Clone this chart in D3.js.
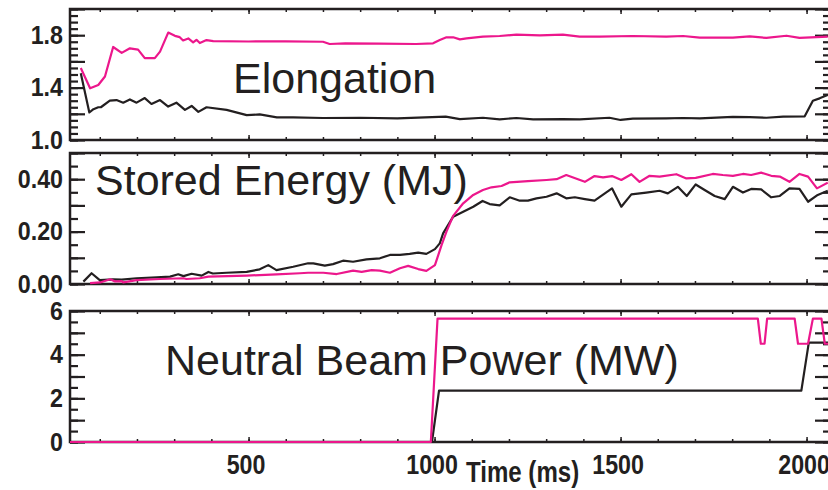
<!DOCTYPE html>
<html>
<head>
<meta charset="utf-8">
<script src="https://cdn.jsdelivr.net/npm/d3@7"></script>
<style>
  html, body { margin: 0; padding: 0; background: #fff; overflow: hidden; }
  svg { display: block; }
</style>
</head>
<body>
<svg id="chart" width="828" height="490"></svg>
<script>
// ---------------- data (time in ms) ----------------
// Two discharges: shot A (black) and shot B (magenta)

// Elongation
const elongTimeA = [49, 72, 83, 96, 103, 127, 145, 163, 181, 199, 221, 239, 262, 284, 306, 329, 347, 365, 387, 441, 495, 530, 576, 620, 700, 800, 900, 1030, 1068, 1130, 1175, 1220, 1265, 1345, 1390, 1470, 1500, 1533, 1623, 1668, 1713, 1802, 1847, 1892, 1937, 1995, 2017, 2035, 2057];
const elongA = [1.51, 1.21, 1.235, 1.25, 1.25, 1.30, 1.305, 1.285, 1.31, 1.285, 1.32, 1.275, 1.305, 1.255, 1.285, 1.23, 1.26, 1.215, 1.25, 1.23, 1.19, 1.195, 1.173, 1.172, 1.168, 1.17, 1.165, 1.178, 1.16, 1.17, 1.158, 1.168, 1.158, 1.16, 1.158, 1.17, 1.153, 1.163, 1.165, 1.168, 1.165, 1.176, 1.174, 1.17, 1.178, 1.181, 1.30, 1.318, 1.344];

const elongTimeB = [49, 74, 96, 114, 136, 159, 181, 203, 221, 248, 262, 284, 302, 315, 324, 338, 351, 360, 369, 387, 405, 500, 600, 700, 718, 760, 850, 950, 996, 1014, 1032, 1050, 1068, 1086, 1130, 1175, 1220, 1283, 1345, 1390, 1444, 1533, 1623, 1668, 1713, 1802, 1847, 1892, 1946, 1981, 2057];
const elongB = [1.55, 1.395, 1.42, 1.485, 1.71, 1.665, 1.70, 1.69, 1.625, 1.625, 1.675, 1.82, 1.795, 1.785, 1.76, 1.775, 1.745, 1.765, 1.74, 1.763, 1.755, 1.752, 1.753, 1.75, 1.733, 1.737, 1.735, 1.733, 1.738, 1.763, 1.784, 1.784, 1.768, 1.776, 1.789, 1.794, 1.804, 1.799, 1.804, 1.789, 1.789, 1.794, 1.789, 1.794, 1.781, 1.781, 1.791, 1.779, 1.796, 1.779, 1.789];

// Stored energy (MJ)
const energyTimeA = [56, 78, 100, 136, 159, 199, 253, 289, 311, 325, 347, 374, 392, 404, 441, 495, 530, 553, 575, 620, 660, 674, 705, 727, 754, 781, 817, 853, 880, 907, 933, 956, 978, 1001, 1014, 1023, 1050, 1077, 1104, 1129, 1148, 1175, 1202, 1229, 1251, 1274, 1301, 1328, 1354, 1377, 1404, 1430, 1477, 1502, 1529, 1569, 1605, 1627, 1654, 1678, 1702, 1726, 1753, 1780, 1802, 1829, 1851, 1878, 1905, 1928, 1954, 1981, 2004, 2030, 2057];
const energyA = [0.009, 0.041, 0.015, 0.018, 0.017, 0.022, 0.025, 0.028, 0.037, 0.030, 0.039, 0.032, 0.046, 0.040, 0.043, 0.046, 0.056, 0.072, 0.053, 0.066, 0.079, 0.079, 0.070, 0.076, 0.089, 0.085, 0.094, 0.098, 0.111, 0.111, 0.115, 0.120, 0.115, 0.133, 0.155, 0.193, 0.257, 0.276, 0.295, 0.317, 0.305, 0.300, 0.331, 0.318, 0.318, 0.327, 0.333, 0.346, 0.327, 0.331, 0.324, 0.318, 0.365, 0.295, 0.342, 0.349, 0.356, 0.346, 0.371, 0.336, 0.380, 0.359, 0.336, 0.324, 0.371, 0.349, 0.363, 0.361, 0.331, 0.336, 0.365, 0.363, 0.314, 0.340, 0.356];

const energyTimeB = [74, 101, 128, 141, 159, 163, 199, 262, 325, 333, 369, 392, 495, 575, 638, 660, 701, 737, 781, 804, 831, 853, 880, 907, 929, 956, 978, 1001, 1019, 1032, 1050, 1077, 1104, 1130, 1153, 1180, 1202, 1251, 1301, 1328, 1354, 1404, 1430, 1453, 1477, 1502, 1529, 1551, 1578, 1605, 1650, 1677, 1702, 1748, 1775, 1802, 1829, 1851, 1878, 1905, 1928, 1954, 1981, 2004, 2028, 2057];
const energyB = [0.003, 0.006, 0.018, 0.010, 0.011, 0.006, 0.015, 0.019, 0.022, 0.019, 0.022, 0.028, 0.032, 0.037, 0.041, 0.043, 0.043, 0.038, 0.051, 0.046, 0.053, 0.051, 0.043, 0.060, 0.069, 0.057, 0.050, 0.072, 0.149, 0.200, 0.260, 0.308, 0.340, 0.359, 0.369, 0.374, 0.388, 0.393, 0.397, 0.400, 0.416, 0.390, 0.412, 0.407, 0.412, 0.397, 0.419, 0.390, 0.413, 0.410, 0.419, 0.403, 0.405, 0.420, 0.416, 0.413, 0.420, 0.416, 0.425, 0.413, 0.410, 0.390, 0.420, 0.410, 0.365, 0.387];

// Neutral beam power (MW)
const beamTimeA = [20, 993, 1012, 1986, 2006, 2063];
const beamA = [0, 0, 2.35, 2.35, 4.55, 4.55];

const beamTimeB = [20, 990, 1008, 1869, 1877, 1887, 1894, 1968, 1977, 2004, 2017, 2040, 2049, 2063];
const beamB = [0, 0, 5.65, 5.65, 4.5, 4.5, 5.65, 5.65, 4.5, 4.5, 5.65, 5.65, 4.5, 4.5];

// Axis tick labels
const timeTicks = [500, 1000, 1500, 2000];
const elongTicks = [1.0, 1.4, 1.8];
const energyTicks = [0.00, 0.20, 0.40];
const powerTicks = [0, 2, 4, 6];

// ---------------- drawing ----------------
const INK = "#231f20";
const PINK = "#ec178c";
const BOLD_FONT = "'Liberation Sans', Arial, Helvetica, sans-serif";

const svg = d3.select("#chart");
const x = d3.scaleLinear().domain([20, 2063]).range([70, 830]);

const panels = [
  { top: 9,   bottom: 140, domain: [1, 2],   minor: 0.05, major: 0.2, labels: elongTicks,  fmt: d3.format(".1f"),
    title: "Elongation", tx: 233, ty: 93,
    series: [[elongTimeA, elongA, INK], [elongTimeB, elongB, PINK]] },
  { top: 153, bottom: 284, domain: [0, 0.5], minor: 0.05, major: 0.1, labels: energyTicks, fmt: d3.format(".2f"),
    title: "Stored Energy (MJ)", tx: 95, ty: 195,
    series: [[energyTimeA, energyA, INK], [energyTimeB, energyB, PINK]] },
  { top: 311, bottom: 442, domain: [0, 6],   minor: 0.5,  major: 1,   labels: powerTicks,  fmt: d3.format("d"),
    title: "Neutral Beam Power (MW)", tx: 165, ty: 375,
    series: [[beamTimeA, beamA, INK], [beamTimeB, beamB, PINK]] }
];

function steps(lo, hi, step) {
  const n = Math.round((hi - lo) / step);
  return d3.range(n + 1).map(i => +(lo + i * step).toFixed(6));
}

const timeMinor = steps(100, 2000, 100);
const timeMajor = steps(500, 2000, 500);

panels.forEach((p, idx) => {
  const y = d3.scaleLinear().domain(p.domain).range([p.bottom, p.top]);
  const g = svg.append("g");

  const minorVals = steps(p.domain[0], p.domain[1], p.minor);
  const majorVals = steps(p.domain[0], p.domain[1], p.major);

  // inward ticks on the left side
  const tickStyle = sel => {
    sel.select(".domain").remove();
    sel.selectAll(".tick line").attr("stroke", INK).attr("stroke-width", 2.2);
  };
  g.append("g").attr("transform", "translate(70,0)")
    .call(d3.axisRight(y).tickValues(minorVals).tickSize(8).tickFormat(""))
    .call(tickStyle);
  g.append("g").attr("transform", "translate(70,0)")
    .call(d3.axisRight(y).tickValues(majorVals).tickSize(15).tickFormat(""))
    .call(tickStyle);
  // inward ticks on the right side
  g.append("g").attr("transform", "translate(830,0)")
    .call(d3.axisLeft(y).tickValues(minorVals).tickSize(7).tickFormat(""))
    .call(tickStyle);
  g.append("g").attr("transform", "translate(830,0)")
    .call(d3.axisLeft(y).tickValues(majorVals).tickSize(15).tickFormat(""))
    .call(tickStyle);

  // time ticks on the top and bottom borders
  const tTick = sel => {
    sel.select(".domain").remove();
    sel.selectAll(".tick line").attr("stroke", INK).attr("stroke-width", 1.5);
  };
  g.append("g").attr("transform", `translate(0,${p.top})`)
    .call(d3.axisBottom(x).tickValues(timeMinor).tickSize(3).tickFormat("")).call(tTick);
  g.append("g").attr("transform", `translate(0,${p.top})`)
    .call(d3.axisBottom(x).tickValues(timeMajor).tickSize(5).tickFormat("")).call(tTick);
  g.append("g").attr("transform", `translate(0,${p.bottom})`)
    .call(d3.axisTop(x).tickValues(timeMinor).tickSize(3).tickFormat("")).call(tTick);
  g.append("g").attr("transform", `translate(0,${p.bottom})`)
    .call(d3.axisTop(x).tickValues(timeMajor).tickSize(5).tickFormat("")).call(tTick);

  // frame
  g.append("rect")
    .attr("x", 70).attr("y", p.top)
    .attr("width", 760).attr("height", p.bottom - p.top)
    .attr("fill", "none").attr("stroke", INK).attr("stroke-width", 2.5);

  // y labels (bold, slightly condensed)
  const lab = g.append("g").attr("transform", "translate(63,0)")
    .call(d3.axisLeft(y).tickValues(p.labels).tickSize(0).tickPadding(0).tickFormat(p.fmt));
  lab.select(".domain").remove();
  lab.selectAll("text")
    .attr("fill", INK)
    .attr("transform", "scale(0.93,1)")
    .style("font-family", BOLD_FONT)
    .style("font-weight", "bold")
    .style("font-size", "25px");

  // panel title
  g.append("text")
    .attr("x", p.tx).attr("y", p.ty)
    .attr("fill", INK)
    .style("font-family", BOLD_FONT)
    .style("font-size", "43px")
    .text(p.title);

  // curves
  const clipId = "clip" + idx;
  svg.append("clipPath").attr("id", clipId)
    .append("rect").attr("x", 70).attr("y", p.top - 4).attr("width", 760).attr("height", p.bottom - p.top + 8);
  const line = d3.line().x(d => x(d[0])).y(d => y(d[1]));
  p.series.forEach(([t, v, c]) => {
    g.append("path")
      .attr("clip-path", `url(#${clipId})`)
      .attr("d", line(d3.zip(t, v)))
      .attr("fill", "none")
      .attr("stroke", c)
      .attr("stroke-width", 2.2)
      .attr("stroke-linejoin", "round");
  });
});

// time axis labels (bold condensed)
const xl = svg.append("g").attr("transform", "translate(-3,474)")
  .call(d3.axisBottom(x).tickValues(timeTicks).tickSize(0).tickPadding(0).tickFormat(d3.format("d")));
xl.select(".domain").remove();
xl.selectAll("text")
  .attr("fill", INK)
  .attr("y", 0)
  .attr("dy", 0)
  .attr("transform", "scale(0.83,1)")
  .style("font-family", BOLD_FONT)
  .style("font-weight", "bold")
  .style("font-size", "28px");

svg.append("text")
  .attr("transform", "translate(466,482) scale(0.83,1)")
  .attr("fill", INK)
  .style("font-family", BOLD_FONT)
  .style("font-weight", "bold")
  .style("font-size", "29px")
  .text("Time (ms)");
</script>
</body>
</html>
